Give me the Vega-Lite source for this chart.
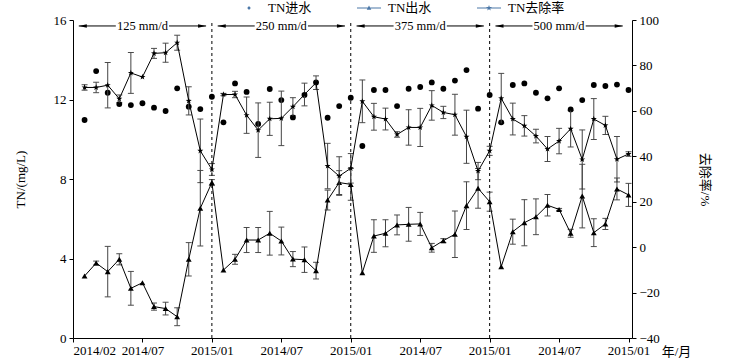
{
  "$schema": "https://vega.github.io/schema/vega-lite/v6.json",
  "width": 559,
  "height": 318,
  "autosize": {"type": "none"},
  "padding": {"left": 73, "top": 20, "right": 105, "bottom": 26},
  "background": "white",
  "datasets": {
    "main": [
      {"t": 1, "inlet": 10.97, "out": 3.12, "outErr": 0, "rem": 70.3, "remErr": 1.2},
      {"t": 2, "inlet": 13.43, "out": 3.77, "outErr": 0.1, "rem": 70.3, "remErr": 2.3},
      {"t": 3, "inlet": 12.34, "out": 3.34, "outErr": 1.27, "rem": 71.3, "remErr": 10},
      {"t": 4, "inlet": 11.77, "out": 3.96, "outErr": 0.28, "rem": 65.3, "remErr": 1.7},
      {"t": 5, "inlet": 11.72, "out": 2.5, "outErr": 0.85, "rem": 76.7, "remErr": 9},
      {"t": 6, "inlet": 11.81, "out": 2.78, "outErr": 0, "rem": 74.9, "remErr": 0},
      {"t": 7, "inlet": 11.59, "out": 1.58, "outErr": 0.18, "rem": 85.3, "remErr": 2.2},
      {"t": 8, "inlet": 11.42, "out": 1.48, "outErr": 0.32, "rem": 85.6, "remErr": 4.2},
      {"t": 9, "inlet": 12.56, "out": 1.07, "outErr": 0.45, "rem": 90, "remErr": 3.3},
      {"t": 10, "inlet": 11.64, "out": 3.96, "outErr": 0.84, "rem": 64.4, "remErr": 6.2},
      {"t": 11, "inlet": 11.52, "out": 6.53, "outErr": 1.9, "rem": 42.4, "remErr": 14},
      {"t": 12, "inlet": 12.14, "out": 7.82, "outErr": 0.15, "rem": 34.2, "remErr": 2.6},
      {"t": 13, "inlet": 10.85, "out": 3.42, "outErr": 0, "rem": 67.2, "remErr": 0.5},
      {"t": 14, "inlet": 12.81, "out": 3.96, "outErr": 0.25, "rem": 67.2, "remErr": 1.4},
      {"t": 15, "inlet": 12.38, "out": 4.93, "outErr": 0.63, "rem": 58.1, "remErr": 8},
      {"t": 16, "inlet": 10.77, "out": 4.93, "outErr": 0.63, "rem": 51.5, "remErr": 12},
      {"t": 17, "inlet": 12.53, "out": 5.27, "outErr": 1.1, "rem": 56.5, "remErr": 7.3},
      {"t": 18, "inlet": 11.97, "out": 4.88, "outErr": 0.7, "rem": 56.7, "remErr": 12},
      {"t": 19, "inlet": 11.1, "out": 3.97, "outErr": 0.38, "rem": 61.8, "remErr": 4},
      {"t": 20, "inlet": 12.23, "out": 3.94, "outErr": 0.64, "rem": 67.2, "remErr": 5},
      {"t": 21, "inlet": 12.86, "out": 3.39, "outErr": 0.42, "rem": 72.4, "remErr": 3},
      {"t": 22, "inlet": 11.08, "out": 6.94, "outErr": 0.5, "rem": 35.7, "remErr": 10},
      {"t": 23, "inlet": 11.67, "out": 7.82, "outErr": 0.6, "rem": 31.3, "remErr": 8.5},
      {"t": 24, "inlet": 12.09, "out": 7.73, "outErr": 0.8, "rem": 34.7, "remErr": 6.5},
      {"t": 25, "inlet": 9.66, "out": 3.29, "outErr": 0, "rem": 64.2, "remErr": 9.4},
      {"t": 26, "inlet": 12.48, "out": 5.13, "outErr": 0.82, "rem": 57.4, "remErr": 5.9},
      {"t": 27, "inlet": 12.48, "out": 5.27, "outErr": 0.68, "rem": 56.4, "remErr": 4.8},
      {"t": 28, "inlet": 11.67, "out": 5.69, "outErr": 0.5, "rem": 49.6, "remErr": 1.2},
      {"t": 29, "inlet": 12.54, "out": 5.72, "outErr": 0.85, "rem": 52.7, "remErr": 7.8},
      {"t": 30, "inlet": 12.63, "out": 5.74, "outErr": 0.58, "rem": 52.7, "remErr": 8.4},
      {"t": 31, "inlet": 12.86, "out": 4.54, "outErr": 0.22, "rem": 62.4, "remErr": 6.5},
      {"t": 32, "inlet": 12.54, "out": 4.9, "outErr": 0.1, "rem": 59.3, "remErr": 2.7},
      {"t": 33, "inlet": 12.95, "out": 5.22, "outErr": 1.17, "rem": 58.3, "remErr": 9},
      {"t": 34, "inlet": 13.48, "out": 6.66, "outErr": 1.2, "rem": 48.6, "remErr": 11.7},
      {"t": 35, "inlet": 11.54, "out": 7.53, "outErr": 1.0, "rem": 33.5, "remErr": 3.8},
      {"t": 36, "inlet": 12.23, "out": 6.86, "outErr": 0.48, "rem": 42.4, "remErr": 2},
      {"t": 37, "inlet": 10.85, "out": 3.59, "outErr": 0, "rem": 65.5, "remErr": 11},
      {"t": 38, "inlet": 12.73, "out": 5.35, "outErr": 0.63, "rem": 56.4, "remErr": 7},
      {"t": 39, "inlet": 12.81, "out": 5.8, "outErr": 1.16, "rem": 53.4, "remErr": 4.5},
      {"t": 40, "inlet": 12.34, "out": 6.1, "outErr": 0.9, "rem": 48.9, "remErr": 3},
      {"t": 41, "inlet": 12.06, "out": 6.68, "outErr": 0.54, "rem": 43.2, "remErr": 5.5},
      {"t": 42, "inlet": 12.56, "out": 6.47, "outErr": 0.05, "rem": 46.7, "remErr": 5.6},
      {"t": 43, "inlet": 11.5, "out": 5.27, "outErr": 0.2, "rem": 52.1, "remErr": 8},
      {"t": 44, "inlet": 11.97, "out": 7.14, "outErr": 1.6, "rem": 38.6, "remErr": 13},
      {"t": 45, "inlet": 12.73, "out": 5.3, "outErr": 0.7, "rem": 56.4, "remErr": 9},
      {"t": 46, "inlet": 12.68, "out": 5.74, "outErr": 0.28, "rem": 53.6, "remErr": 4},
      {"t": 47, "inlet": 12.75, "out": 7.5, "outErr": 0.55, "rem": 38.7, "remErr": 10},
      {"t": 48, "inlet": 12.48, "out": 7.2, "outErr": 0.58, "rem": 41, "remErr": 1}
    ],
    "phases": [
      {"start": 0, "end": 12, "label": "125 mm/d"},
      {"start": 12, "end": 24, "label": "250 mm/d"},
      {"start": 24, "end": 36, "label": "375 mm/d"},
      {"start": 36, "end": 48, "label": "500 mm/d"}
    ],
    "series": [
      {"series": "TN进水"},
      {"series": "TN出水"},
      {"series": "TN去除率"}
    ]
  },
  "layer": [
    {
      "layer": [
        {
          "data": {"name": "phases"},
          "transform": [{"filter": "datum.start > 0"}],
          "mark": {"type": "rule", "color": "black", "strokeWidth": 1, "strokeDash": [3, 3]},
          "encoding": {
            "x": {"field": "start", "type": "quantitative", "title": "年/月", "scale": {"domain": [0, 48.3], "nice": false, "zero": false}},
            "y": {"datum": 0, "type": "quantitative", "title": "TN/(mg/L)", "scale": {"domain": [0, 16], "nice": false}},
            "y2": {"datum": 16}
          }
        },
        {
          "data": {"name": "phases"},
          "transform": [
            {"calculate": "(datum.start + datum.end) / 2", "as": "mid"},
            {"calculate": "datum.start + 0.5", "as": "l1"},
            {"calculate": "datum.mid - 2.3", "as": "l2"},
            {"calculate": "datum.mid + 2.3", "as": "r1"},
            {"calculate": "datum.end - 0.5", "as": "r2"},
            {"calculate": "datum.l1 + 0.35", "as": "lh"},
            {"calculate": "datum.r2 - 0.35", "as": "rh"}
          ],
          "layer": [
            {
              "mark": {"type": "rule", "color": "black", "strokeWidth": 1},
              "encoding": {
                "x": {"field": "l1", "type": "quantitative", "title": "年/月"},
                "x2": {"field": "l2"},
                "y": {"datum": 15.7, "type": "quantitative", "title": "TN/(mg/L)"}
              }
            },
            {
              "mark": {"type": "rule", "color": "black", "strokeWidth": 1},
              "encoding": {
                "x": {"field": "r1", "type": "quantitative", "title": "年/月"},
                "x2": {"field": "r2"},
                "y": {"datum": 15.7, "type": "quantitative", "title": "TN/(mg/L)"}
              }
            },
            {
              "mark": {"type": "point", "shape": "M-1,0L1,-0.45L1,0.45Z", "size": 64, "filled": true, "color": "black", "opacity": 1},
              "encoding": {
                "x": {"field": "lh", "type": "quantitative", "title": "年/月"},
                "y": {"datum": 15.7, "type": "quantitative", "title": "TN/(mg/L)"}
              }
            },
            {
              "mark": {"type": "point", "shape": "M1,0L-1,-0.45L-1,0.45Z", "size": 64, "filled": true, "color": "black", "opacity": 1},
              "encoding": {
                "x": {"field": "rh", "type": "quantitative", "title": "年/月"},
                "y": {"datum": 15.7, "type": "quantitative", "title": "TN/(mg/L)"}
              }
            },
            {
              "mark": {"type": "text", "font": "Liberation Serif", "fontSize": 12.5, "color": "black", "baseline": "middle", "align": "center"},
              "encoding": {
                "x": {"field": "mid", "type": "quantitative", "title": "年/月"},
                "y": {"datum": 15.7, "type": "quantitative", "title": "TN/(mg/L)"},
                "text": {"field": "label"}
              }
            }
          ]
        },
        {
          "data": {"name": "main"},
          "transform": [{"filter": "datum.outErr > 0"}],
          "mark": {"type": "errorbar", "ticks": {"size": 6, "color": "black"}, "rule": {"color": "#444", "strokeWidth": 1}},
          "encoding": {
            "x": {"field": "t", "type": "quantitative", "title": "年/月"},
            "y": {"field": "out", "type": "quantitative", "title": "TN/(mg/L)"},
            "yError": {"field": "outErr"}
          }
        },
        {
          "data": {"name": "main"},
          "mark": {"type": "line", "color": "black", "strokeWidth": 1},
          "encoding": {
            "x": {"field": "t", "type": "quantitative", "title": "年/月"},
            "y": {"field": "out", "type": "quantitative", "title": "TN/(mg/L)"}
          }
        },
        {
          "data": {"name": "main"},
          "mark": {"type": "point", "shape": "triangle-up", "size": 34, "filled": true, "color": "black", "opacity": 1},
          "encoding": {
            "x": {"field": "t", "type": "quantitative", "title": "年/月"},
            "y": {"field": "out", "type": "quantitative", "title": "TN/(mg/L)"}
          }
        },
        {
          "data": {"name": "main"},
          "mark": {"type": "point", "shape": "circle", "size": 34, "filled": true, "color": "black", "opacity": 1},
          "encoding": {
            "x": {
              "field": "t", "type": "quantitative", "title": "年/月",
              "scale": {"domain": [0, 48.3], "nice": false, "zero": false},
              "axis": {
                "values": [0, 6, 12, 18, 24, 30, 36, 42, 48],
                "labelExpr": "datum.value == 0 ? '2014/02' : (datum.value % 12 == 0 ? '2015/01' : '2014/07')",
                "titleX": 603,
                "titleY": 13,
                "titleBaseline": "middle",
                "titleAlign": "center",
                "tickSize": 4,
                "labelPadding": 2
              }
            },
            "y": {
              "field": "inlet", "type": "quantitative", "title": "TN/(mg/L)",
              "scale": {"domain": [0, 16], "nice": false},
              "axis": {
                "orient": "left",
                "values": [0, 2, 4, 6, 8, 10, 12, 14, 16],
                "labelExpr": "datum.value % 4 == 0 ? datum.label : ''",
                "titlePadding": 26,
                "tickSize": 4,
                "labelPadding": 3
              }
            }
          }
        }
      ]
    },
    {
      "layer": [
        {
          "data": {"name": "main"},
          "transform": [{"filter": "datum.remErr > 0"}],
          "mark": {"type": "errorbar", "ticks": {"size": 6, "color": "black"}, "rule": {"color": "#444", "strokeWidth": 1}},
          "encoding": {
            "x": {"field": "t", "type": "quantitative", "title": "年/月"},
            "y": {"field": "rem", "type": "quantitative", "title": "去除率/%", "scale": {"domain": [-40, 100], "nice": false, "zero": false}},
            "yError": {"field": "remErr"}
          }
        },
        {
          "data": {"name": "main"},
          "mark": {"type": "line", "color": "black", "strokeWidth": 1},
          "encoding": {
            "x": {"field": "t", "type": "quantitative", "title": "年/月"},
            "y": {"field": "rem", "type": "quantitative", "title": "去除率/%", "scale": {"domain": [-40, 100], "nice": false, "zero": false}}
          }
        },
        {
          "data": {"name": "main"},
          "mark": {"type": "point", "shape": "M0,-1L0.235,-0.324L0.951,-0.309L0.38,0.124L0.588,0.809L0,0.4L-0.588,0.809L-0.38,0.124L-0.951,-0.309L-0.235,-0.324Z", "size": 40, "filled": true, "color": "black", "opacity": 1},
          "encoding": {
            "x": {"field": "t", "type": "quantitative", "title": "年/月"},
            "y": {
              "field": "rem", "type": "quantitative", "title": "去除率/%",
              "scale": {"domain": [-40, 100], "nice": false, "zero": false},
              "axis": {
                "orient": "right",
                "values": [-40, -30, -20, -10, 0, 10, 20, 30, 40, 50, 60, 70, 80, 90, 100],
                "labelExpr": "datum.value % 20 == 0 ? datum.label : ''",
                "titlePadding": 38,
                "tickSize": 4,
                "labelPadding": 3
              }
            }
          }
        }
      ]
    },
    {
      "data": {"name": "series"},
      "mark": {"type": "point", "opacity": 0, "filled": true, "size": 576},
      "encoding": {
        "shape": {
          "field": "series", "type": "nominal",
          "scale": {
            "domain": ["TN进水", "TN出水", "TN去除率"],
            "range": [
              "M0.125,0A0.125,0.125,0,1,1,-0.125,0A0.125,0.125,0,1,1,0.125,0Z",
              "M-1,-0.04H1V0.04H-1ZM0,-0.2L0.19,0.14L-0.19,0.14Z",
              "M-1,-0.04H1V0.04H-1ZM0,-0.25L0.059,-0.081L0.238,-0.077L0.095,0.031L0.147,0.202L0,0.1L-0.147,0.202L-0.095,0.031L-0.238,-0.077L-0.059,-0.081Z"
            ]
          },
          "legend": {
            "orient": "none",
            "legendX": 164,
            "legendY": -24,
            "direction": "horizontal",
            "title": null,
            "symbolSize": 576,
            "symbolFillColor": "black",
            "symbolStrokeColor": "black",
            "symbolStrokeWidth": 0,
            "symbolOpacity": 1,
            "labelFont": "Liberation Serif, Noto Sans CJK SC",
            "labelFontSize": 13,
            "labelColor": "black",
            "labelOffset": 7,
            "columnPadding": 45,
            "padding": 0
          }
        }
      }
    }
  ],
  "resolve": {"scale": {"y": "independent"}},
  "config": {
    "view": {"stroke": null},
    "axis": {
      "grid": false,
      "domainColor": "black",
      "tickColor": "black",
      "labelColor": "black",
      "titleColor": "black",
      "labelFont": "Liberation Serif, Noto Sans CJK SC",
      "labelFontSize": 13,
      "titleFont": "Liberation Serif, Noto Sans CJK SC",
      "titleFontSize": 13,
      "titleFontWeight": "normal"
    }
  }
}
